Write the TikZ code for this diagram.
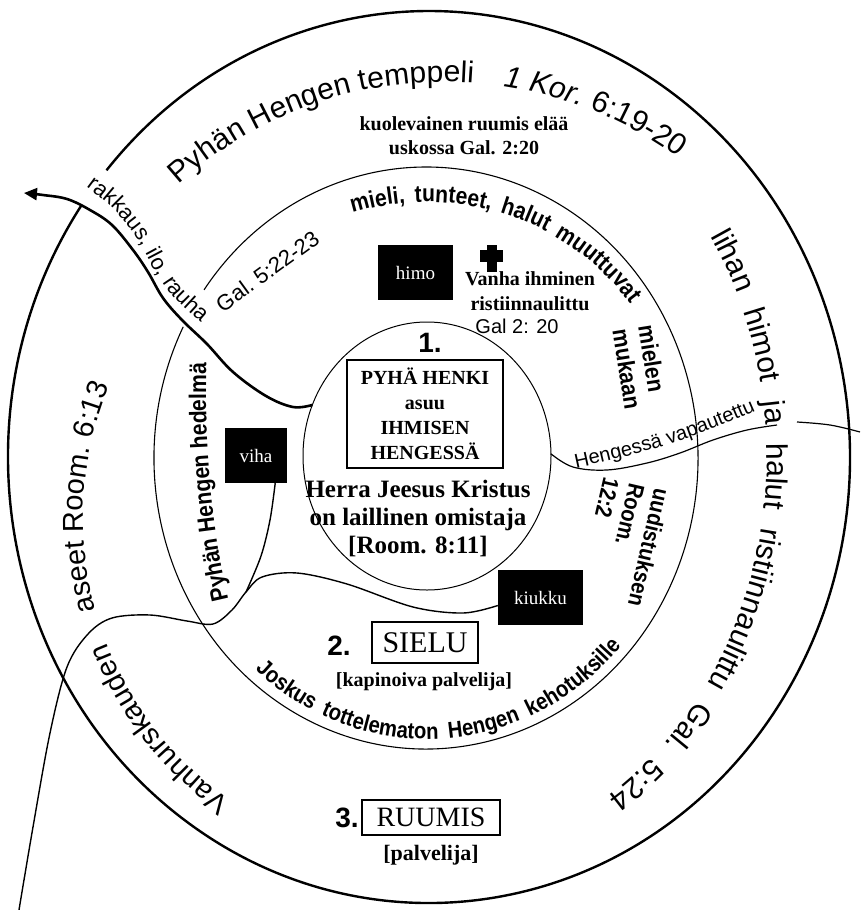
\documentclass[tikz,border=0pt]{standalone}
\usepackage{fontspec}
\setmainfont{Liberation Serif}
\setsansfont{Liberation Sans}
\newfontfamily\narrowsans[FakeStretch=0.88]{Liberation Sans}
\usetikzlibrary{shapes.geometric,decorations.text,arrows.meta,calc}
\newcommand\myfs[2]{\fontsize{#1}{#2}\selectfont}
\begin{document}
\begin{tikzpicture}[x=1pt,y=1pt,
  ring/.style={draw, ellipse, inner sep=0pt, outer sep=0pt},
  blackbox/.style={fill=black, text=white, inner sep=0pt, font=\myfs{19}{19}},
  framebox/.style={draw, line width=1.8pt, inner sep=0pt},
  curvetext/.style={decorate, decoration={text along path, #1}},
  arrowline/.style={line width=2.6pt, -{Triangle[length=13pt,width=12pt]}},
  thinline/.style={line width=1.4pt},
  medline/.style={line width=1.2pt},
  txt/.style={inner sep=0pt, align=center},
]
\useasboundingbox (0,0) rectangle (860,-910);
\coordinate (C) at (427,-457);
% outer ring (gap where "rakkaus" passes)
\draw[line width=2.4pt] ($(429,-457)+(145.7:421pt and 446pt)$) arc[start angle=145.7, end angle=500, x radius=421pt, y radius=446pt];
% middle ring (gap where "rauha" passes)
\draw[line width=1.1pt] ($(426,-458)+(153.2:272pt and 291pt)$) arc[start angle=153.2, end angle=504.7, x radius=272pt, y radius=291pt];
\node[ring, line width=1pt, minimum width=248pt, minimum height=268pt] (inner) at (427,-456) {};

% ---- outer ring texts
\path[curvetext={text={|\sffamily\myfs{30}{30}|Pyhän Hengen temppeli}, text align=left}]
  ($(445,-480)+(132:398pt)$) arc[start angle=132, end angle=80, radius=398pt];
\path[curvetext={text={|\sffamily\itshape\myfs{30}{30}|1 Kor. |\sffamily\upshape\myfs{30}{30}|6:19-20}, text align=left}]
  ($(445,-480)+(81.5:398pt)$) arc[start angle=81.5, end angle=45, radius=398pt];
\path[curvetext={text={|\sffamily\myfs{29}{29}|Vanhurskauden}, text align=left}]
  ($(428,-518)+(235:345pt)$) arc[start angle=235, end angle=195, radius=345pt];
\path[curvetext={text={|\sffamily\myfs{29}{29}|aseet Room. 6:13}, text align=left}]
  ($(428,-518)+(195.5:345pt)$) arc[start angle=195.5, end angle=150, radius=345pt];
\path[curvetext={text={|\sffamily\myfs{30}{30}|lihan himot ja halut ristiinnaulittu Gal. 5:24}, text align=fit to path stretching spaces}]
  ($(C)+(33.5:340pt and 400pt)$) arc[start angle=33.5, end angle=-58, x radius=340pt, y radius=400pt];

% ---- middle ring texts
\path[curvetext={text={|\narrowsans\bfseries\myfs{24}{24}|mieli, tunteet, halut muuttuvat}, text align=fit to path stretching spaces}]
  ($(C)+(107:255pt)$) arc[start angle=107, end angle=37, radius=255pt];
\path[curvetext={text={|\narrowsans\bfseries\myfs{23}{23}|Joskus tottelematon Hengen kehotuksille}, text align=fit to path stretching spaces}]
  ($(C)+(229:262pt and 282pt)$) arc[start angle=229, end angle=318, x radius=262pt, y radius=282pt];
\path[curvetext={text={|\narrowsans\bfseries\myfs{24}{24}|Pyhän Hengen hedelmä}, text align=center}]
  (232,-614) .. controls (212,-540) and (203,-440) .. (207,-348);
\path[curvetext={text={|\sffamily\myfs{22}{22}|Gal. 5:22-23}, text align=center}]
  (212,-321) -- (332,-234);
\path[curvetext={text={|\sffamily\myfs{22}{22}|rakkaus, ilo, rauha}, text align=left}]
  plot[smooth, tension=0.6] coordinates {(86,-187) (110,-206) (130,-228) (144,-250) (156,-272) (170,-293) (190,-313) (214,-333) (240,-352)};
\path[curvetext={text={|\sffamily\myfs{20}{20}|Hengessä vapautettu}, text align=left}]
  (576,-468) to[bend right=6] (766,-406);

% ---- plain texts
\node[txt, font=\bfseries\myfs{20}{24}] (kuol) at (464,-136) {kuolevainen ruumis elää\\uskossa Gal. 2:20};
\node[txt, font=\narrowsans\bfseries\myfs{24}{26}, rotate=-81, align=left] (mielen) at (640,-367) {mielen\\mukaan};
\node[txt, font=\narrowsans\bfseries\myfs{23}{26}, rotate=-103, align=left] (uudis) at (624,-542) {uudistuksen\\Room.\\12:2};

\node[blackbox, minimum width=75pt, minimum height=55pt] (himo) at (415.5,-272.5) {himo};
\node[blackbox, minimum width=62pt, minimum height=55pt] (viha) at (256,-455.5) {viha};
\node[blackbox, minimum width=85pt, minimum height=55pt] (kiukku) at (540.5,-597.5) {kiukku};
\fill (480,-250) rectangle (503,-262);
\fill (487,-245) rectangle (497,-272);
\node[txt, font=\bfseries\myfs{20}{25}] (vanha) at (530,-291) {Vanha ihminen\\ristiinnaulittu};
\node[txt, font=\sffamily\myfs{20}{20}] (gal220) at (517,-326) {Gal 2: 20};

\node[txt, font=\sffamily\bfseries\myfs{28}{28}] (one) at (430,-343) {1.};
\node[framebox, minimum width=156pt, minimum height=108pt, align=center, font=\bfseries\myfs{20}{25}] (spirit) at (425,-414) {PYHÄ HENKI\\asuu\\IHMISEN\\HENGESSÄ};
\node[txt, font=\bfseries\myfs{25}{28}] (herra) at (418,-518) {Herra Jeesus Kristus\\on laillinen omistaja\\{[Room. 8:11]}};

\node[txt, font=\sffamily\bfseries\myfs{28}{28}] (two) at (339,-646) {2.};
\node[framebox, minimum width=106pt, minimum height=41pt, font=\myfs{30}{30}] (sielu) at (425,-642.5) {SIELU};
\node[txt, font=\bfseries\myfs{20}{20}] (kapin) at (424,-682) {[kapinoiva palvelija]};
\node[txt, font=\sffamily\bfseries\myfs{28}{28}] (three) at (347,-818) {3.};
\node[framebox, minimum width=138pt, minimum height=35pt, font=\myfs{28}{28}] (ruumis) at (431,-817.5) {RUUMIS};
\node[txt, font=\bfseries\myfs{22}{22}] (palv) at (431,-855) {[palvelija]};

% ---- connectors
\coordinate (J) at (246,-592);
\coordinate (lowend) at (19,-910);
\coordinate (gapL) at (777,-425);
\coordinate (gapR) at (797,-422);
\coordinate (rightend) at (860,-432);
\draw[arrowline] plot[smooth, tension=0.6] coordinates {(inner.156) (293,-407) (266,-396) (233,-372) (207,-344) (182,-320) (163,-298) (148,-272) (133,-250) (112,-225) (90,-210) (67,-199) (43,-195) (24,-193)};
\draw[thinline] plot[smooth, tension=0.55] coordinates {([yshift=-8pt]kiukku.west) (463,-613) (413,-607) (347,-584) (297,-573) (262,-577) (J) (232,-610) (213,-624) (187,-621) (150,-615) (112,-618) (88,-634) (67,-667) (50,-733) (33,-827) (lowend)};
\draw[thinline] plot[smooth, tension=0.55] coordinates {([xshift=-12pt]viha.south east) (270,-520) (261,-556) (J)};
\draw[medline] plot[smooth, tension=0.6] coordinates {(inner.1) (573,-467) (607,-470) (647,-463) (680,-453) (713,-440) (747,-430) (gapL)};
\draw[medline] plot[smooth, tension=0.6] coordinates {(gapR) (830,-425) (rightend)};
\end{tikzpicture}
\end{document}
